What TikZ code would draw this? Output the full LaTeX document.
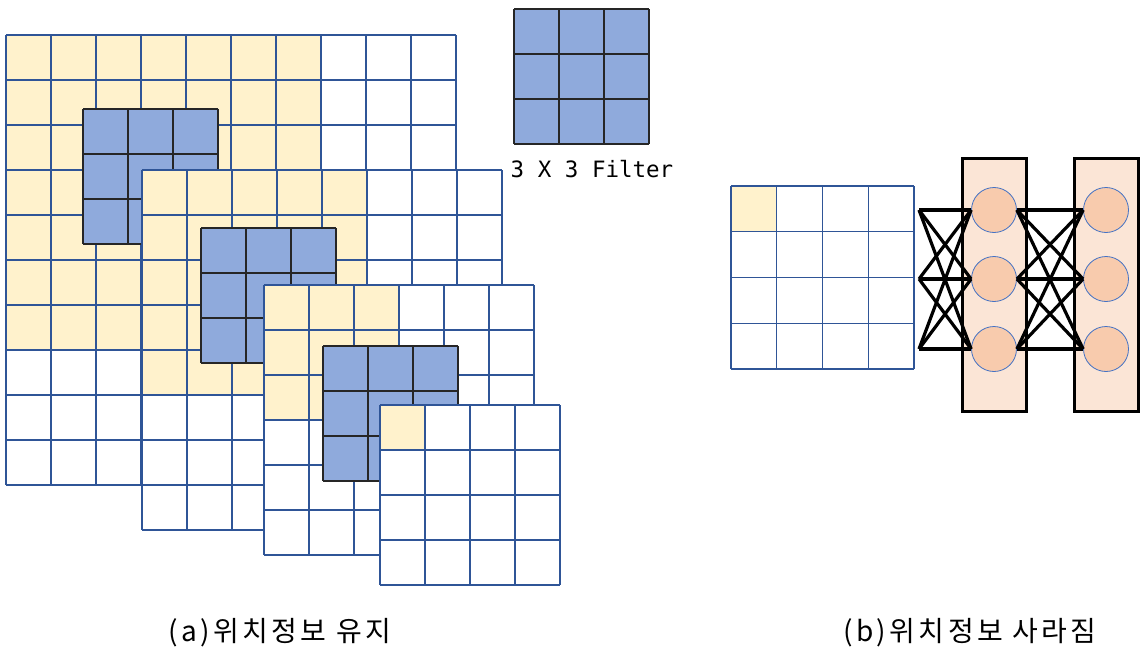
\documentclass[tikz,border=0pt]{standalone}
\usepackage{fontspec,tikz}
\setmainfont{Noto Sans CJK KR}
\newfontfamily\monofnt{DejaVu Sans Mono}
\newfontfamily\capfnt[LetterSpace=12]{Noto Sans CJK KR}
\definecolor{cellline}{HTML}{2F5597}
\definecolor{covered}{HTML}{FFF2CC}
\definecolor{filterfill}{HTML}{8FAADC}
\definecolor{layerfill}{HTML}{FBE5D6}
\definecolor{neuronfill}{HTML}{F8CBAD}
\definecolor{neuronline}{HTML}{4472C4}
\tikzset{
  gridline/.style={draw=cellline,line width=1.1pt},
  filterline/.style={draw=black!85,line width=1.5pt},
  layerbox/.style={draw=black,line width=3pt,fill=layerfill,minimum width=64pt,minimum height=253pt,inner sep=0pt},
  neuron/.style={circle,draw=neuronline,line width=0.8pt,fill=neuronfill,minimum size=45pt,inner sep=0pt},
  link/.style={draw=black,line width=3.2pt},
  caption/.style={inner sep=0pt,font=\capfnt\fontsize{28}{32}\selectfont}
}
\begin{document}
\begin{tikzpicture}[x=1pt,y=-1pt]
\path[use as bounding box] (0,0) rectangle (1145,650);
% (a) feature maps, filter slides over them
\fill[white] (6,35) rectangle (456,485);
\fill[covered] (6,35) rectangle (321,350);
\foreach \i in {0,...,10} {
  \draw[gridline] ({6+45*\i},35) -- ({6+45*\i},485);
  \draw[gridline] (6,{35+45*\i}) -- (456,{35+45*\i});
}
\fill[filterfill] (83,109) rectangle (218,244);
\foreach \i in {0,...,3} {
  \draw[filterline] ({83+45*\i},109) -- ({83+45*\i},244);
  \draw[filterline] (83,{109+45*\i}) -- (218,{109+45*\i});
}
\fill[white] (142,170) rectangle (502,530);
\fill[covered] (142,170) rectangle (367,395);
\foreach \i in {0,...,8} {
  \draw[gridline] ({142+45*\i},170) -- ({142+45*\i},530);
  \draw[gridline] (142,{170+45*\i}) -- (502,{170+45*\i});
}
\fill[filterfill] (201,228) rectangle (336,363);
\foreach \i in {0,...,3} {
  \draw[filterline] ({201+45*\i},228) -- ({201+45*\i},363);
  \draw[filterline] (201,{228+45*\i}) -- (336,{228+45*\i});
}
\fill[white] (264,285) rectangle (534,555);
\fill[covered] (264,285) rectangle (399,420);
\foreach \i in {0,...,6} {
  \draw[gridline] ({264+45*\i},285) -- ({264+45*\i},555);
  \draw[gridline] (264,{285+45*\i}) -- (534,{285+45*\i});
}
\fill[filterfill] (323,346) rectangle (458,481);
\foreach \i in {0,...,3} {
  \draw[filterline] ({323+45*\i},346) -- ({323+45*\i},481);
  \draw[filterline] (323,{346+45*\i}) -- (458,{346+45*\i});
}
\fill[white] (380,405) rectangle (560,585);
\fill[covered] (380,405) rectangle (425,450);
\foreach \i in {0,...,4} {
  \draw[gridline] ({380+45*\i},405) -- ({380+45*\i},585);
  \draw[gridline] (380,{405+45*\i}) -- (560,{405+45*\i});
}
% legend filter
\fill[filterfill] (514,9) rectangle (649,144);
\foreach \i in {0,...,3} {
  \draw[filterline] ({514+45*\i},9) -- ({514+45*\i},144);
  \draw[filterline] (514,{9+45*\i}) -- (649,{9+45*\i});
}
\node[inner sep=0pt,font=\monofnt\fontsize{22.5}{26}\selectfont] (filtname) at (592,169) {3 X 3 Filter};
% (b) fully connected
\fill[covered] (731,186) rectangle (776.75,231.75);
\foreach \i in {0,...,4} {
  \draw[gridline] ({731+45.75*\i},186) -- ({731+45.75*\i},369);
  \draw[gridline] (731,{186+45.75*\i}) -- (914,{186+45.75*\i});
}
\node[layerbox] (hidden) at (994.5,285) {};
\node[layerbox] (output) at (1106,285) {};
\coordinate (in1) at (919,210);
\coordinate (in2) at (919,279);
\coordinate (in3) at (919,349);
\node[neuron] (h1) at (994,210) {};
\node[neuron] (h2) at (994,279) {};
\node[neuron] (h3) at (994,349) {};
\node[neuron] (o1) at (1106,210) {};
\node[neuron] (o2) at (1106,279) {};
\node[neuron] (o3) at (1106,349) {};
\foreach \a in {1,2,3} {
  \foreach \b in {1,2,3} {
    \draw[link] (in\a) -- (h\b.west);
    \draw[link] (h\a.east) -- (o\b.west);
  }
}
\node[caption] (capa) at (280,633) {(a)위치정보 유지};
\node[caption] (capb) at (970,633) {(b)위치정보 사라짐};
\end{tikzpicture}
\end{document}
